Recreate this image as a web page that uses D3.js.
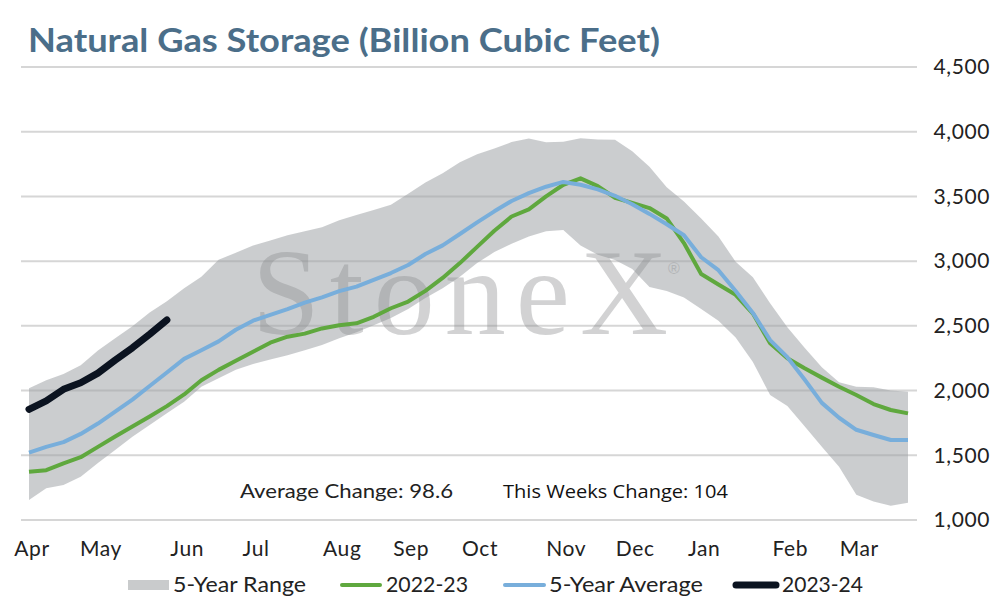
<!DOCTYPE html>
<html><head><meta charset="utf-8">
<script src="https://cdn.jsdelivr.net/npm/d3@7"></script>
<style>body{margin:0;background:#fff}svg{display:block}</style>
</head><body>
<svg id="c" width="995" height="606"></svg>
<script>
// ---- data ----
const title = "Natural Gas Storage (Billion Cubic Feet)";
const monthLabels = ["Apr","May","Jun","Jul","Aug","Sep","Oct","Nov","Dec","Jan","Feb","Mar"];
const monthStartWeek = [0,4,9,13,18,22,26,31,35,39,44,48];
const yTicks = [1000,1500,2000,2500,3000,3500,4000,4500];
const rangeHigh = [2018,2080,2128,2195,2310,2405,2497,2603,2690,2790,2880,3010,3065,3120,3160,3200,3230,3262,3316,3357,3396,3436,3520,3608,3680,3765,3825,3870,3920,3948,3918,3923,3949,3940,3937,3850,3730,3570,3460,3330,3190,2995,2875,2674,2490,2330,2180,2065,2030,2025,2000,1991];
const rangeLow = [1155,1245,1270,1335,1440,1541,1644,1734,1824,1914,2030,2095,2160,2205,2240,2272,2312,2352,2404,2450,2505,2560,2630,2715,2790,2880,2985,3070,3135,3190,3230,3241,3120,3050,3009,2940,2800,2770,2720,2630,2540,2410,2220,1966,1880,1725,1566,1412,1195,1142,1110,1134];
const avg5yr = [1520,1565,1602,1665,1745,1838,1930,2035,2140,2245,2312,2380,2470,2540,2585,2630,2680,2720,2768,2803,2855,2908,2970,3055,3122,3210,3300,3385,3465,3525,3575,3612,3590,3555,3505,3440,3365,3285,3200,3030,2930,2770,2600,2390,2258,2085,1905,1790,1697,1657,1618,1618];
const season2223 = [1373,1385,1438,1485,1565,1645,1722,1800,1880,1970,2080,2160,2230,2300,2370,2416,2440,2480,2505,2520,2570,2636,2688,2770,2870,2985,3110,3235,3345,3400,3500,3590,3640,3580,3490,3450,3410,3330,3140,2900,2820,2740,2595,2365,2250,2172,2100,2030,1966,1896,1850,1824];
const season2324 = [1855,1920,2010,2060,2135,2235,2330,2435,2545];
const avgChangeText = "Average Change: 98.6";
const weekChangeText = "This Weeks Change: 104";
const legendItems = ["5-Year Range","2022-23","5-Year Average","2023-24"];

// ---- drawing ----
const svg = d3.select("#c");
const x = d3.scaleLinear().domain([0,51]).range([29,908]);
const y = d3.scaleLinear().domain([1000,4500]).range([520,67]);
const font = "Lato, 'Noto Sans', sans-serif";

svg.append("text").attr("x",28).attr("y",52)
  .attr("font-family",font).attr("font-weight",700).attr("font-size",32)
  .attr("textLength",632).attr("lengthAdjust","spacingAndGlyphs")
  .attr("fill","#4b6e89").text(title);

// gridlines
svg.append("g").selectAll("line").data(yTicks).join("line")
  .attr("x1",21).attr("x2",917).attr("y1",d=>y(d)).attr("y2",d=>y(d))
  .attr("stroke","#d6d6d6").attr("stroke-width",2);

// right axis labels
svg.append("g").selectAll("text").data(yTicks).join("text")
  .attr("x",990).attr("y",d=>y(d)).attr("dy","0.35em").attr("text-anchor","end")
  .attr("font-family",font).attr("font-size",21).attr("fill","#222")
  .attr("letter-spacing",0.6)
  .text(d=>d3.format(",")(d));

// x labels
svg.append("g").selectAll("text").data(monthLabels).join("text")
  .attr("x",(d,i)=>x(monthStartWeek[i])+3).attr("y",556).attr("text-anchor","middle")
  .attr("font-family",font).attr("font-size",21).attr("fill","#222")
  .attr("letter-spacing",0.6).text(d=>d);

// range area
const area = d3.area().x((d,i)=>x(i)).y0((d,i)=>y(rangeLow[i])).y1(d=>y(d));
svg.append("path").datum(rangeHigh).attr("d",area)
  .attr("fill","#9da1a4").attr("fill-opacity",0.53);

// watermark
const wm = svg.append("g").attr("opacity",0.38);
wm.append("text").attr("x",252).attr("y",334)
  .attr("font-family","'Liberation Serif','DejaVu Serif',serif").attr("font-size",122)
  .attr("textLength",416).attr("lengthAdjust","spacing")
  .attr("fill","#8a8c8e").text("StoneX");
wm.append("text").attr("x",668).attr("y",274)
  .attr("font-family","'Liberation Sans',sans-serif").attr("font-size",16)
  .attr("fill","#8a8c8e").text("®");

// lines
const line = d3.line().x((d,i)=>x(i)).y(d=>y(d));
svg.append("path").datum(season2223).attr("d",line).attr("fill","none")
  .attr("stroke","#5fa83e").attr("stroke-width",4).attr("stroke-linejoin","round");
svg.append("path").datum(avg5yr).attr("d",line).attr("fill","none")
  .attr("stroke","#78aedb").attr("stroke-width",4).attr("stroke-linejoin","round");
svg.append("path").datum(season2324).attr("d",line).attr("fill","none")
  .attr("stroke","#0b1320").attr("stroke-width",7).attr("stroke-linejoin","round").attr("stroke-linecap","round");

// annotations
svg.append("text").attr("x",240).attr("y",498)
  .attr("font-family",font).attr("font-size",20).attr("fill","#222")
  .attr("textLength",213).attr("lengthAdjust","spacingAndGlyphs").text(avgChangeText);
svg.append("text").attr("x",503).attr("y",498)
  .attr("font-family","'Open Sans',sans-serif").attr("font-size",18).attr("fill","#111")
  .attr("textLength",225).attr("lengthAdjust","spacingAndGlyphs").text(weekChangeText);

// legend
const lg = svg.append("g").attr("font-family",font).attr("font-size",21).attr("fill","#222");
const ly = 585;
const legendTextX = [173,386,549,782];
const legendTextW = [133,82,154,81];
lg.append("rect").attr("x",128).attr("y",ly-5).attr("width",41).attr("height",10).attr("fill","#c9cbcc");
lg.append("line").attr("x1",342).attr("x2",380).attr("y1",ly).attr("y2",ly).attr("stroke","#5fa83e").attr("stroke-width",4).attr("stroke-linecap","round");
lg.append("line").attr("x1",505).attr("x2",544).attr("y1",ly).attr("y2",ly).attr("stroke","#78aedb").attr("stroke-width",4).attr("stroke-linecap","round");
lg.append("line").attr("x1",736).attr("x2",776).attr("y1",ly).attr("y2",ly).attr("stroke","#0b1320").attr("stroke-width",7).attr("stroke-linecap","round");
lg.selectAll("text").data(legendItems).join("text")
  .attr("x",(d,i)=>legendTextX[i]).attr("y",ly).attr("dy","0.35em")
  .attr("textLength",(d,i)=>legendTextW[i]).attr("lengthAdjust","spacingAndGlyphs")
  .text(d=>d);
</script>
</body></html>
